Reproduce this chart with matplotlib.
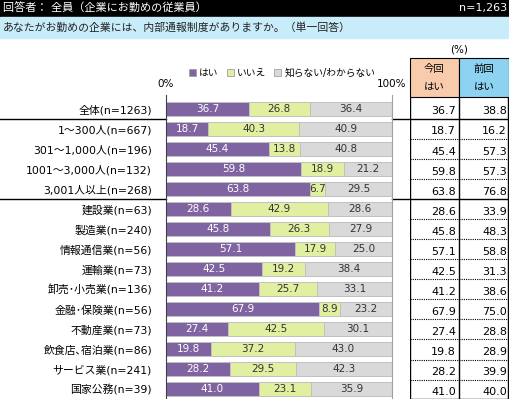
import matplotlib.pyplot as plt
from matplotlib.patches import Rectangle, Patch

plt.rcParams['font.family'] = ['DejaVu Sans', 'Noto Sans CJK JP']

categories = ['全体(n=1263)', '1～300人(n=667)', '301～1,000人(n=196)',
              '1001～3,000人(n=132)', '3,001人以上(n=268)', '建設業(n=63)',
              '製造業(n=240)', '情報通信業(n=56)', '運輸業(n=73)',
              '卸売･小売業(n=136)', '金融･保険業(n=56)', '不動産業(n=73)',
              '飲食店､宿泊業(n=86)', 'サービス業(n=241)', '国家公務(n=39)']
yes = [36.7, 18.7, 45.4, 59.8, 63.8, 28.6, 45.8, 57.1, 42.5, 41.2, 67.9, 27.4, 19.8, 28.2, 41.0]
no = [26.8, 40.3, 13.8, 18.9, 6.7, 42.9, 26.3, 17.9, 19.2, 25.7, 8.9, 42.5, 37.2, 29.5, 23.1]
dont_know = [36.4, 40.9, 40.8, 21.2, 29.5, 28.6, 27.9, 25.0, 38.4, 33.1, 23.2, 30.1, 43.0, 42.3, 35.9]
previous = [38.8, 16.2, 57.3, 57.3, 76.8, 33.9, 48.3, 58.8, 31.3, 38.6, 75.0, 28.8, 28.9, 39.9, 40.0]
series_names = ['はい', 'いいえ', '知らない/わからない']
colors = ['#8064A2', '#E0F0A0', '#D9D9D9']

fig = plt.figure(figsize=(5.1, 3.99), dpi=100)

# background / decorations in pixel coords
bg = fig.add_axes([0, 0, 1, 1])
bg.set_xlim(0, 510)
bg.set_ylim(399, 0)
bg.axis('off')
bg.add_patch(Rectangle((0, 0), 510, 17, color='black'))
bg.add_patch(Rectangle((0, 17), 510, 21, color='#C9ECFA'))
bg.text(3, 8.5, '回答者： 全員（企業にお勤めの従業員）', color='white', fontsize=8, va='center')
bg.text(507, 8.5, 'n=1,263', color='white', fontsize=8, va='center', ha='right')
bg.text(3, 27.5, 'あなたがお勤めの企業には、内部通報制度がありますか。（単一回答）',
        fontsize=7.8, va='center', color='#222222')
bg.text(459, 50, '(%)', fontsize=7.5, ha='center', va='center')
bg.add_patch(Rectangle((410, 58), 49, 39, facecolor='#F8CBAD', edgecolor='black', lw=0.8))
bg.add_patch(Rectangle((459, 58), 50, 39, facecolor='#8DD2F0', edgecolor='black', lw=0.8))
for x in (434.5, 484):
    bg.text(x, 69, '今回' if x < 450 else '前回', fontsize=7.5, ha='center', va='center')
    bg.text(x, 88, 'はい', fontsize=7.5, ha='center', va='center')
bg.text(166, 84, '0%', fontsize=7.5, ha='center', va='center')
bg.text(392, 84, '100%', fontsize=7.5, ha='center', va='center')
for y in (118.5, 198.5):
    bg.plot([0, 166], [y, y], color='black', lw=1)
    bg.plot([392, 410], [y, y], color='black', lw=1)

# stacked bars
ax = fig.add_axes([166 / 510, 0, 226 / 510, (399 - 95) / 399])
rows = list(range(len(categories)))
left = [0] * len(rows)
for vals, name, c in zip([yes, no, dont_know], series_names, colors):
    ax.barh(rows, vals, left=left, height=0.72, color=c, edgecolor='#C0C0C0', lw=0.7)
    for i, v in enumerate(vals):
        ax.text(left[i] + v / 2, i, f'{v:.1f}', ha='center', va='center', fontsize=7.5,
                color='white' if c == colors[0] else '#333333')
    left = [a + b for a, b in zip(left, vals)]
ax.set_xlim(0, 100)
ax.set_ylim(14.5, -0.7)
ax.set_yticks(rows)
ax.set_yticklabels(categories, fontsize=7.8)
ax.tick_params(axis='y', length=0, pad=10)
ax.set_xticks([])
for s in ('top', 'bottom'):
    ax.spines[s].set_visible(False)
ax.spines['left'].set_color('#404040')
ax.spines['right'].set_color('#A0A0A0')
ax.set_facecolor('none')

fig.legend(handles=[Patch(facecolor=c, edgecolor='#A0A0A0', lw=0.6) for c in colors],
           labels=series_names, loc='center', bbox_to_anchor=(282 / 510, 1 - 73 / 399),
           ncol=3, frameon=False, fontsize=7, handlelength=0.7, handleheight=0.7,
           handletextpad=0.3, columnspacing=0.9)

# comparison table
tax = fig.add_axes([410 / 510, 0, 100 / 510, (399 - 97) / 399])
tax.set_xlim(0, 100)
tax.set_ylim(14.47, -0.6)
tax.axis('off')
for i in rows:
    tax.text(46, i + 0.12, f'{yes[i]:.1f}', ha='right', va='center', fontsize=8)
    tax.text(97, i + 0.12, f'{previous[i]:.1f}', ha='right', va='center', fontsize=8)
for i in range(len(rows) - 1):
    y = i + 0.5
    if i in (0, 4):
        tax.plot([0, 100], [y, y], color='black', lw=1)
    else:
        tax.plot([0, 98], [y, y], color='black', lw=0.8, ls=(0, (1, 1)))
tax.plot([0, 98], [14.47, 14.47], color='black', lw=1)
tax.plot([0, 0], [-0.6, 14.47], color='black', lw=1)
tax.plot([49, 49], [-0.6, 14.47], color='black', lw=1)
tax.plot([98, 98], [-0.6, 14.47], color='black', lw=1)

fig.savefig('out.png', dpi=100)
